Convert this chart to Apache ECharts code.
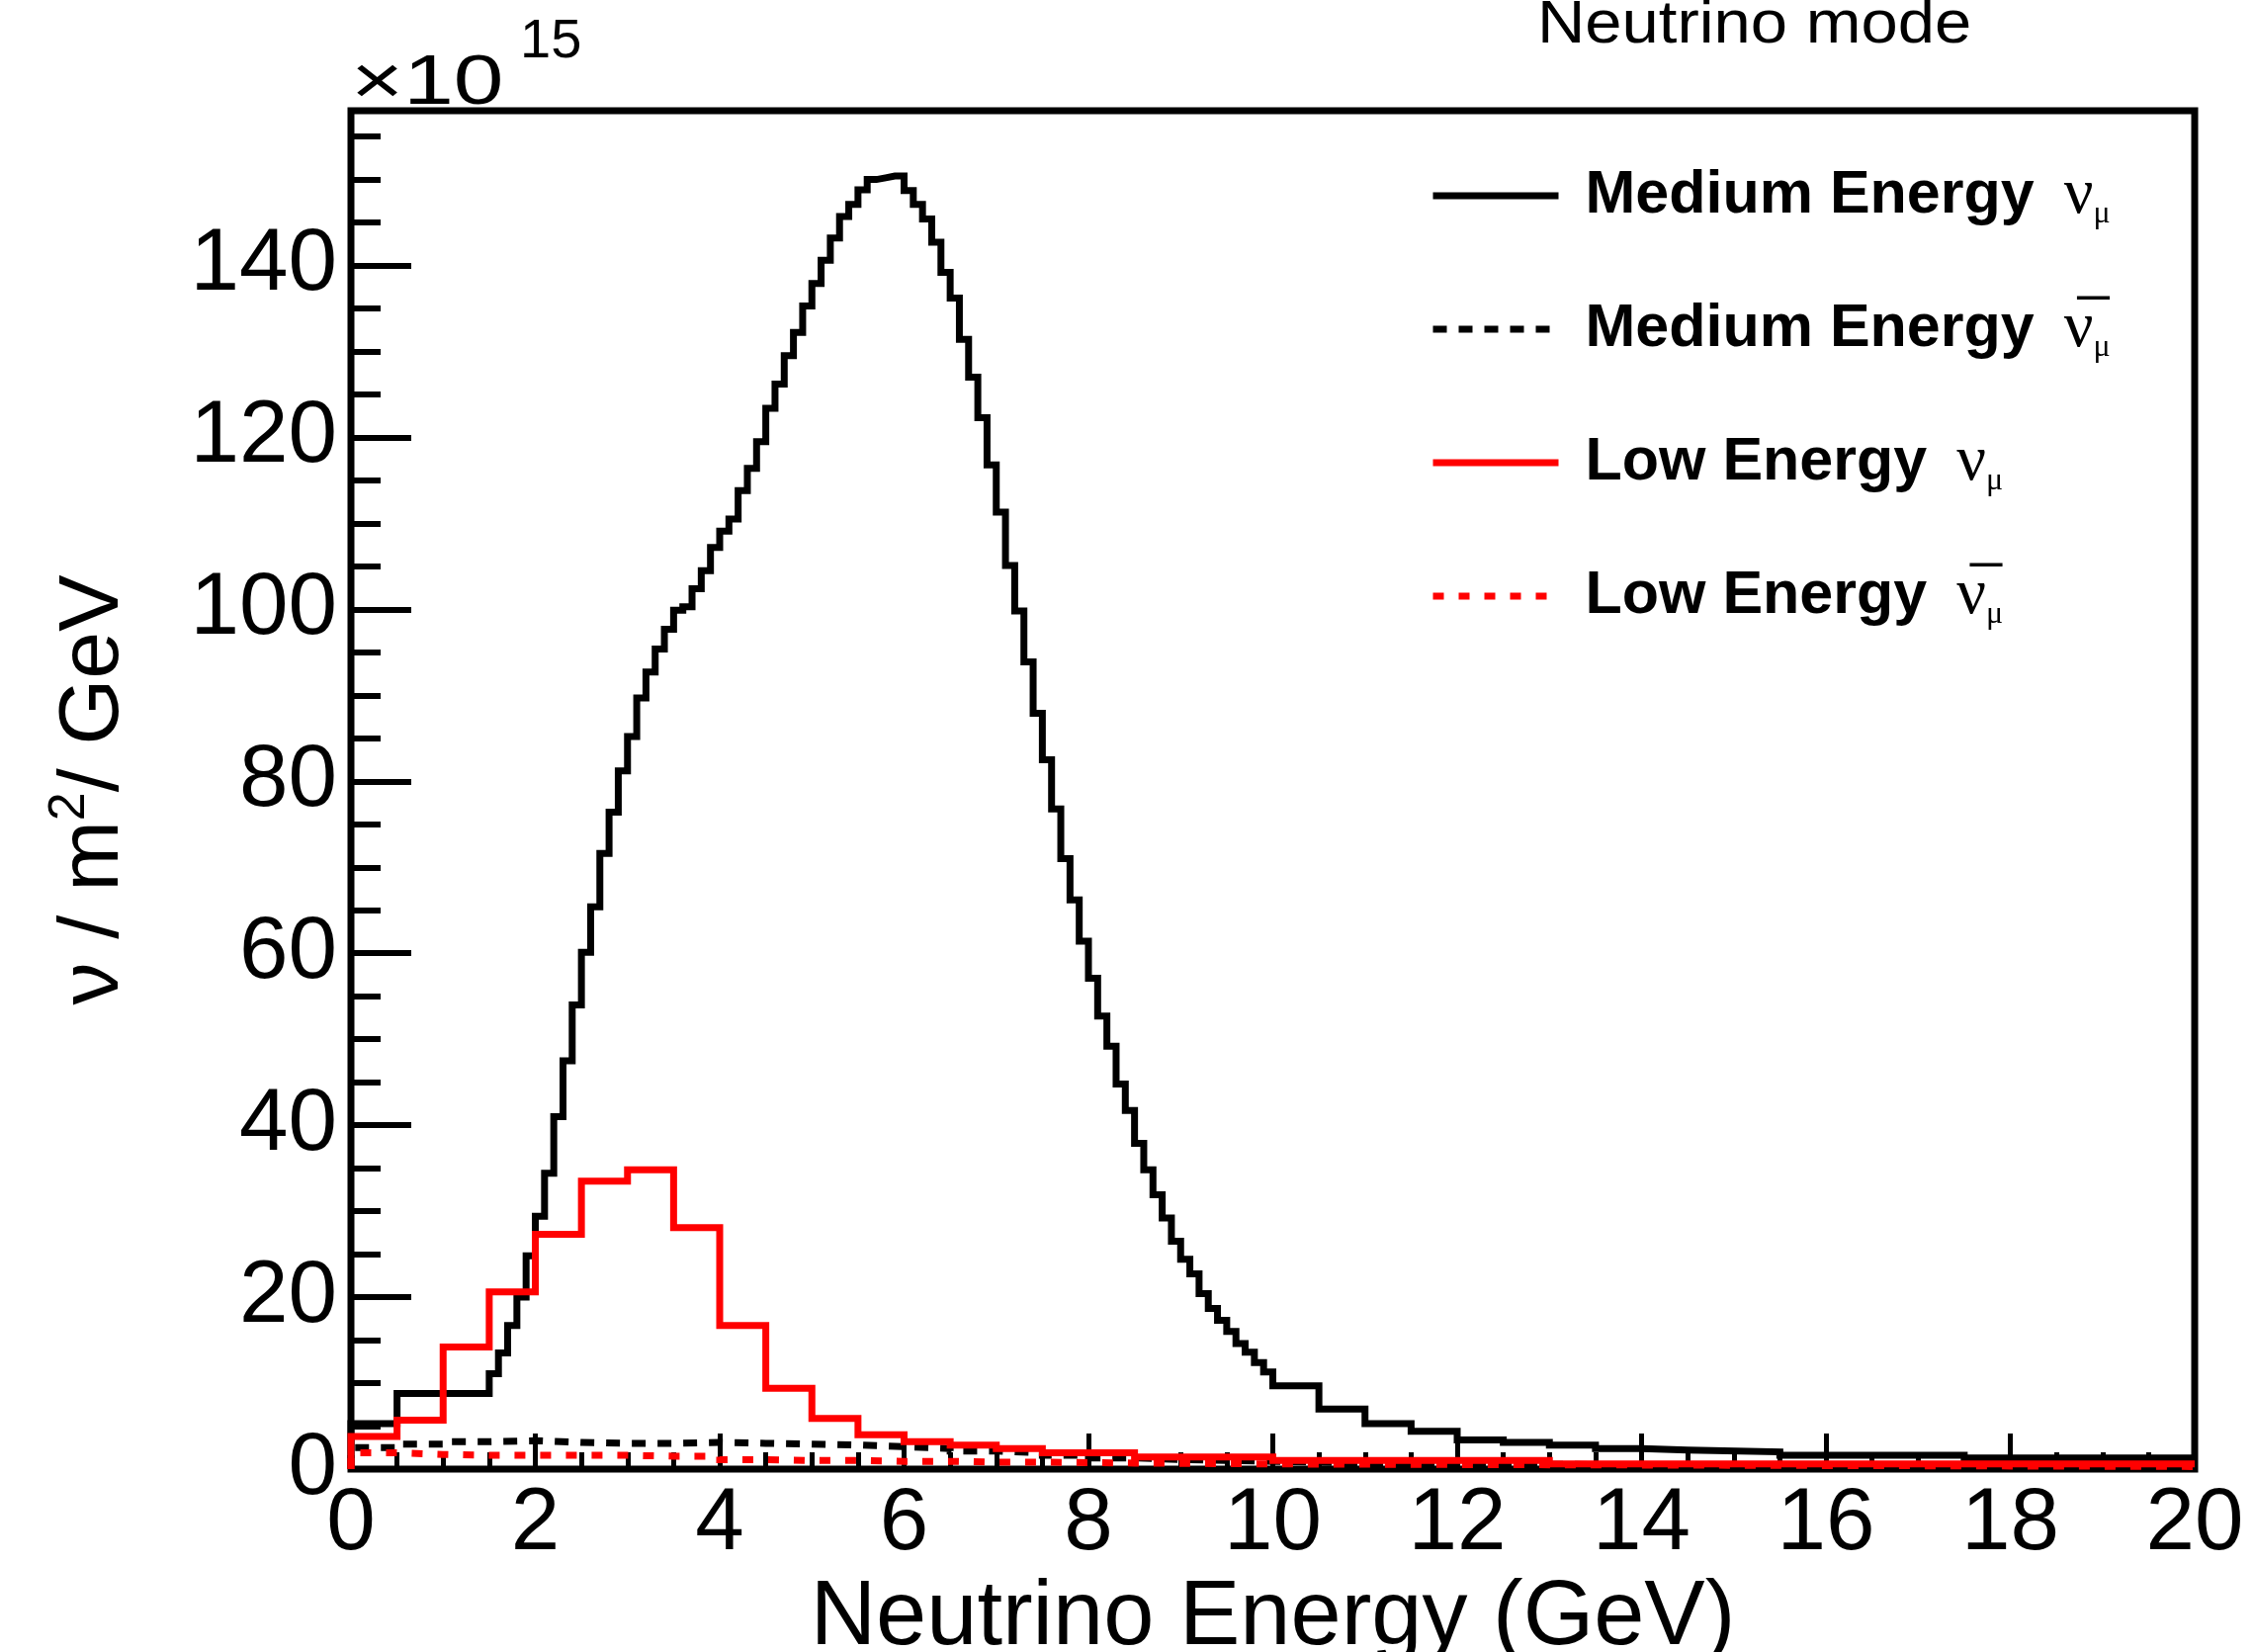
<!DOCTYPE html>
<html>
<head>
<meta charset="utf-8">
<script src="https://cdn.jsdelivr.net/npm/echarts@6.0.0/dist/echarts.min.js"></script>
<style>
html, body {margin: 0; padding: 0; background: #fff;}
#flux {width: 2280px; height: 1671px;}
</style>
</head>
<body>
<div id="flux"></div>
<script>
/*bin edges (GeV) and contents (x10^15 nu / m^2 / GeV)*/
var meNuEdges = [0, 0.5,
    1.5, 1.6, 1.7, 1.8, 1.9, 2.0, 2.1, 2.2, 2.3, 2.4, 2.5, 2.6, 2.7, 2.8, 2.9,
    3.0, 3.1, 3.2, 3.3, 3.4, 3.5, 3.6, 3.7, 3.8, 3.9, 4.0, 4.1, 4.2, 4.3, 4.4,
    4.5, 4.6, 4.7, 4.8, 4.9, 5.0, 5.1, 5.2, 5.3, 5.4, 5.5, 5.6, 5.7, 5.8, 5.9,
    6.0, 6.1, 6.2, 6.3, 6.4, 6.5, 6.6, 6.7, 6.8, 6.9, 7.0, 7.1, 7.2, 7.3, 7.4,
    7.5, 7.6, 7.7, 7.8, 7.9, 8.0, 8.1, 8.2, 8.3, 8.4, 8.5, 8.6, 8.7, 8.8, 8.9,
    9.0, 9.1, 9.2, 9.3, 9.4, 9.5, 9.6, 9.7, 9.8, 9.9, 10.0,
    10.5, 11, 11.5, 12, 12.5, 13, 13.5, 14, 14.5, 15.5, 17.5, 20];
var meNuValues = [5.3, 8.8,
    11.1, 13.5, 16.7, 20.0, 24.8, 29.4, 34.4, 41.0, 47.5, 54.0, 60.1, 65.4, 71.6, 76.4, 81.2,
    85.2, 89.7, 92.7, 95.4, 97.7, 99.9, 100.3, 102.4, 104.5, 107.2, 109.1, 110.5, 113.8, 116.4, 119.5,
    123.4, 126.2, 129.5, 132.2, 135.3, 137.9, 140.6, 143.2, 145.7, 147.1, 148.8, 150.0, 150.2, 150.4, 150.4,
    148.7, 147.1, 145.4, 142.7, 139.2, 136.2, 131.4, 127.0, 122.3, 116.8, 111.3, 105.1, 99.8, 93.9, 87.9,
    82.5, 76.8, 71.0, 66.2, 61.4, 57.1, 52.7, 49.2, 44.8, 41.7, 37.9, 34.8, 31.9, 29.2, 26.5,
    24.4, 22.7, 20.4, 18.7, 17.3, 16.0, 14.6, 13.6, 12.4, 11.3,
    9.7, 7.0, 5.3, 4.4, 3.4, 3.1, 2.8, 2.4, 2.2, 2.0, 1.6, 1.3];

var meNuBarEdges = [0, 0.5, 1, 1.5, 2, 2.5, 3, 3.5, 4, 4.5, 5, 5.5, 6, 6.5, 7, 7.5, 8, 8.5, 9, 9.5, 10, 11, 12, 14, 20];
var meNuBarValues = [2.5, 2.9, 3.2, 3.3, 3.1, 3.0, 3.0, 3.1, 3.0, 2.9, 2.8, 2.6, 2.4, 2.1, 1.9, 1.6, 1.3, 1.1, 1.0, 0.9, 0.7, 0.6, 0.5, 0.4];

var leNuEdges = [0, 0.5, 1, 1.5, 2, 2.5, 3, 3.5, 4, 4.5, 5, 5.5, 6, 6.5, 7, 7.5, 8.5, 10, 13, 20];
var leNuValues = [3.8, 5.7, 14.2, 20.6, 27.3, 33.5, 34.8, 28.1, 16.7, 9.4, 5.9, 4.0, 3.2, 2.8, 2.4, 1.9, 1.4, 1.0, 0.6];

var leNuBarEdges = [0, 0.5, 1, 1.5, 2, 2.5, 3, 3.5, 4, 4.5, 5, 5.5, 6, 6.5, 7, 7.5, 8.5, 10, 13, 20];
var leNuBarValues = [1.9, 1.7, 1.6, 1.6, 1.6, 1.6, 1.5, 1.5, 1.1, 1.0, 1.0, 0.9, 0.9, 0.8, 0.8, 0.7, 0.6, 0.5, 0.3];

var seriesNames = ['Medium Energy νμ', 'Medium Energy ν̄μ', 'Low Energy νμ', 'Low Energy ν̄μ'];
var xTicks = [0, 20, 2];      /*min, max, step*/
var yTicks = [0, 158, 20, 5]; /*min, max, major step, minor step*/

/*histogram outline: corner points of every bin*/
function histPoints(edges, values) {
    var pts = [[edges[0], 0]];
    for (var i = 0; i < values.length; i++) {
        pts.push([edges[i], values[i]]);
        pts.push([edges[i + 1], values[i]]);
    }
    return pts;
}

var legendText = {
    'Medium Energy νμ': '{b|Medium Energy}{n|ν}{s|μ}',
    'Medium Energy ν̄μ': '{b|Medium Energy}{n|ν\u0305}{s|μ}',
    'Low Energy νμ': '{b|Low Energy}{n|ν}{s|μ}',
    'Low Energy ν̄μ': '{b|Low Energy}{n|ν\u0305}{s|μ}'
};

var sans = '"Liberation Sans", Arial, Helvetica, sans-serif';
var serif = '"Liberation Serif", "DejaVu Serif", serif';

function histSeries(name, edges, values, color, dash) {
    return {
        name: name,
        type: 'line',
        xAxisIndex: 0,
        yAxisIndex: 0,
        data: histPoints(edges, values),
        symbol: 'none',
        showSymbol: false,
        lineStyle: {color: color, width: 7, type: dash, cap: 'butt', join: 'miter'},
        itemStyle: {color: color},
        animation: false
    };
}

var myChart = echarts.init(document.getElementById('flux'));
var option = {
    backgroundColor: '#fff',
    animation: false,
    grid: {
        left: 355, right: 60, top: 112, bottom: 185,
        containLabel: false,
        outerBoundsMode: 'none',
        show: true, borderColor: '#000', borderWidth: 7, backgroundColor: 'transparent'
    },
    legend: {
        orient: 'vertical',
        left: 1446,
        top: 165,
        padding: 0,
        itemWidth: 127,
        itemHeight: 14,
        itemGap: 67,
        selectedMode: false,
        data: seriesNames,
        lineStyle: {width: 7},
        itemStyle: {color: 'rgba(0,0,0,0)', borderWidth: 0, opacity: 0},
        formatter: function (name) {
            return legendText[name];
        },
        textStyle: {
            color: '#000',
            rich: {
                b: {fontFamily: sans, fontWeight: 'bold', fontSize: 61, lineHeight: 70, padding: [0, 0, 0, 22], color: '#000'},
                n: {fontFamily: serif, fontSize: 66, lineHeight: 70, padding: [0, 0, 0, 30], color: '#000'},
                s: {fontFamily: serif, fontSize: 32, lineHeight: 24, verticalAlign: 'bottom', color: '#000'}
            }
        }
    },
    xAxis: [{
        type: 'value',
        min: xTicks[0],
        max: xTicks[1],
        interval: xTicks[2],
        name: 'Neutrino Energy (GeV)',
        nameLocation: 'middle',
        nameGap: 90,
        nameTextStyle: {fontFamily: sans, fontSize: 92, color: '#000'},
        axisLine: {show: false},
        axisTick: {show: true, inside: true, length: 36, lineStyle: {color: '#000', width: 5}},
        minorTick: {show: true, splitNumber: 4, length: 17, lineStyle: {color: '#000', width: 5}},
        splitLine: {show: false},
        axisLabel: {fontFamily: sans, fontSize: 89, color: '#000', margin: 12}
    }],
    yAxis: [{
        type: 'value',
        min: yTicks[0],
        max: yTicks[1],
        interval: yTicks[2],
        name: '{a|ν / m}{p|2}{a|/ GeV}',
        nameLocation: 'middle',
        nameRotate: 90,
        nameGap: 210,
        nameTextStyle: {
            color: '#000',
            rich: {
                a: {fontFamily: sans, fontSize: 86, lineHeight: 100, color: '#000'},
                p: {fontFamily: sans, fontSize: 52, lineHeight: 40, verticalAlign: 'top', color: '#000'}
            }
        },
        axisLine: {show: false},
        axisTick: {show: true, inside: true, length: 61, lineStyle: {color: '#000', width: 6}},
        splitLine: {show: false},
        axisLabel: {fontFamily: sans, fontSize: 89, color: '#000', margin: 14, showMaxLabel: false}
    }, {
        /*minor ticks every 5*/
        type: 'value',
        position: 'left',
        min: yTicks[0],
        max: yTicks[1],
        interval: yTicks[3],
        axisLine: {show: false},
        axisTick: {show: true, inside: true, length: 30, lineStyle: {color: '#000', width: 6}},
        splitLine: {show: false},
        axisLabel: {show: false}
    }],
    graphic: [
        {type: 'text', x: 355, y: 86, scaleX: 1.3, style: {text: '×10', fontFamily: sans, fontSize: 70, fill: '#000', align: 'left', verticalAlign: 'middle'}},
        {type: 'text', x: 526, y: 43, style: {text: '15', fontFamily: sans, fontSize: 56, fill: '#000', align: 'left', verticalAlign: 'middle'}},
        {type: 'text', x: 1555, y: 26, scaleX: 1.08, style: {text: 'Neutrino mode', fontFamily: sans, fontSize: 62, fill: '#000', align: 'left', verticalAlign: 'middle'}}
    ],
    series: [
        histSeries(seriesNames[0], meNuEdges, meNuValues, '#000000', 'solid'),
        histSeries(seriesNames[1], meNuBarEdges, meNuBarValues, '#000000', [14, 12]),
        histSeries(seriesNames[2], leNuEdges, leNuValues, '#ff0000', 'solid'),
        histSeries(seriesNames[3], leNuBarEdges, leNuBarValues, '#ff0000', [11, 15])
    ]
};
myChart.setOption(option);
</script>
</body>
</html>
